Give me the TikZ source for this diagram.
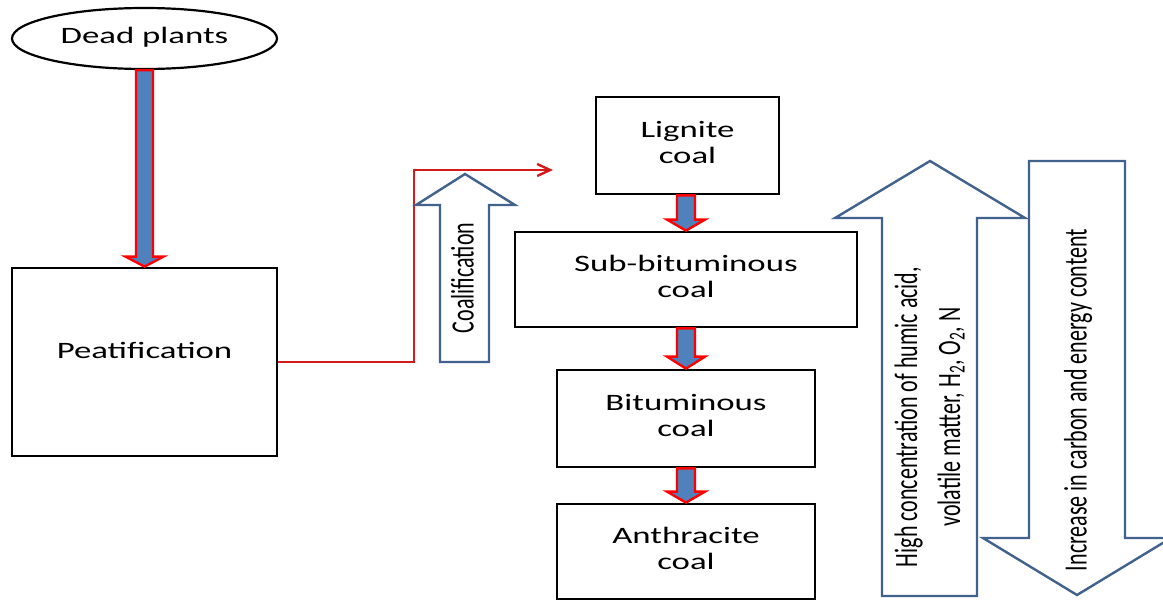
\documentclass[tikz,border=0pt]{standalone}
\usepackage{fontspec}
\setmainfont{Carlito}
\usetikzlibrary{calc,arrows.meta,shapes.geometric}
\definecolor{arrowblue}{HTML}{4F81BD}
\definecolor{outlineblue}{HTML}{41628C}
\definecolor{linkred}{HTML}{D41A1A}
% box labels are set wide, rotated labels tall
\newcommand\widetext[1]{\fontsize{23.5}{26}\selectfont\scalebox{1.48}[1]{\begin{tabular}{@{}c@{}}#1\end{tabular}}}
\newcommand\talltext[1]{\fontsize{22}{29}\selectfont\scalebox{1}[1.48]{\begin{tabular}{@{}c@{}}#1\end{tabular}}}
% red-edged block arrow from the bottom of one node to the top of the next
\newcommand\vblock[5]{% from, to, shaft half width, head half width, head length
  \draw[blk] ($(#1.south -| #2.north)+(-#3,0)$) -- ($(#1.south -| #2.north)+(#3,0)$)
    -- ($(#2.north)+(#3,-#5)$) -- ($(#2.north)+(#4,-#5)$) -- (#2.north)
    -- ($(#2.north)+(-#4,-#5)$) -- ($(#2.north)+(-#3,-#5)$) -- cycle;}
\begin{document}
\begin{tikzpicture}[x=1pt,y=-1pt,
  coalbox/.style={draw=black,line width=2.8pt,fill=white,rectangle,inner sep=0pt},
  blk/.style={draw=red,line width=2.4pt,fill=arrowblue,line join=miter},
  openarrow/.style={draw=outlineblue,line width=2.4pt,fill=white,line join=miter},
  link/.style={draw=linkred,line width=2.4pt,-{Straight Barb[length=13pt,width=12pt]}}]
\useasboundingbox (0,0) rectangle (1163,600);
\clip (0,0) rectangle (1163,600);

% source and first stage
\node[draw=black,line width=2.2pt,ellipse,minimum width=265pt,minimum height=61pt,inner sep=0pt]
  (dead) at (144.5,38.5) {\raisebox{-3pt}{\widetext{Dead plants}}};
\node[coalbox,minimum width=265pt,minimum height=188pt] (peat) at (144.5,362)
  {\raisebox{24pt}{\widetext{Peatification}}};
\vblock{dead}{peat}{8.5}{19}{10}

% coal ranks
\node[coalbox,minimum width=183pt,minimum height=97pt] (lig) at (687.5,145.5) {\widetext{Lignite\\coal}};
\node[coalbox,minimum width=342pt,minimum height=95pt] (sub) at (686,279.5) {\widetext{Sub-bituminous\\coal}};
\node[coalbox,minimum width=258pt,minimum height=97pt] (bit) at (686,418.5) {\widetext{Bituminous\\coal}};
\node[coalbox,minimum width=258pt,minimum height=95pt] (anth) at (686,551.5) {\widetext{Anthracite\\coal}};
\vblock{lig}{sub}{9}{19}{11}
\vblock{sub}{bit}{9}{19}{12}
\vblock{bit}{anth}{9}{19}{11}

% coalification link and arrow
\coordinate (bend) at (414,170);
\coordinate (linkend) at (553,170);
\draw[link] (peat.east) -| (bend) -- (linkend);
\draw[openarrow] (465,174) -- (515,205) -- (489,205) -- (489,362) -- (440,362) -- (440,205) -- (416,205) -- cycle;
\node[rotate=90] (coalif) at (465,278) {\talltext{Coalification}};

% trends along the rank series
\draw[openarrow] (930,161) -- (1025,218) -- (977,218) -- (977,596) -- (882,596) -- (882,218) -- (835,218) -- cycle;
\node[rotate=90] (volatile) at (930,417) {\talltext{High concentration of humic acid,\\volatile matter, H\textsubscript{2}, O\textsubscript{2}, N}};
\draw[openarrow] (1029,161) -- (1125,161) -- (1125,538) -- (1171,538) -- (1077,595) -- (983,538) -- (1029,538) -- cycle;
\node[rotate=90] (carbon) at (1078,400) {\talltext{Increase in carbon and energy content}};
\end{tikzpicture}
\end{document}
